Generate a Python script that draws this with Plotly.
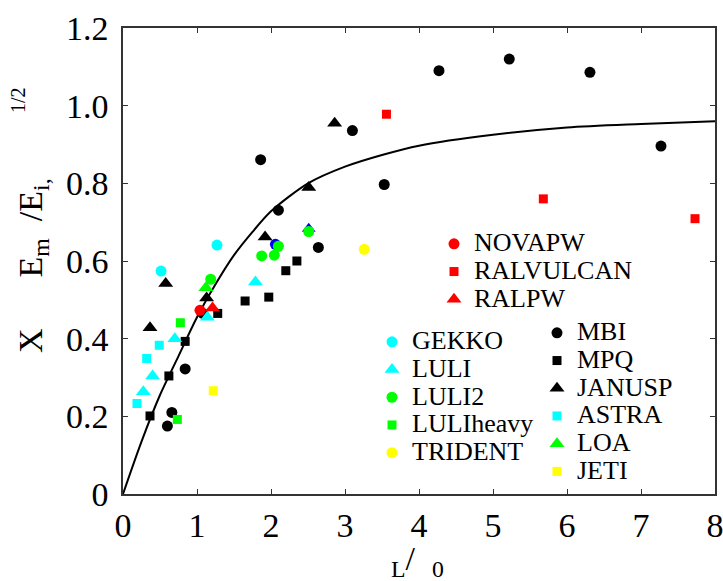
import plotly.graph_objects as go

# ---- data ----
mbi_x = [0.60, 0.66, 0.84, 1.08, 1.86, 2.10, 2.64, 3.10, 3.53, 4.27, 5.22, 6.31, 7.27]
mbi_y = [0.175, 0.210, 0.322, 0.465, 0.861, 0.731, 0.635, 0.936, 0.797, 1.090, 1.120, 1.086, 0.896]
mpq_x = [0.365, 0.62, 0.84, 1.28, 1.65, 1.97, 2.20, 2.35]
mpq_y = [0.201, 0.304, 0.393, 0.465, 0.497, 0.507, 0.575, 0.600]
janusp_x = [0.365, 0.577, 1.13, 1.92, 2.51, 2.86]
janusp_y = [0.428, 0.542, 0.505, 0.662, 0.789, 0.955]
astra_x = [0.189, 0.32, 0.49]
astra_y = [0.233, 0.349, 0.383]
loa_x = [1.12]
loa_y = [0.531]
jeti_x = [1.22]
jeti_y = [0.266]
gekko_x = [0.514, 1.27]
gekko_y = [0.574, 0.641]
luli_x = [0.275, 0.40, 0.70, 1.14, 1.79]
luli_y = [0.263, 0.304, 0.40, 0.455, 0.546]
luli2_x = [1.185, 1.874, 2.045, 2.10, 2.51]
luli2_y = [0.553, 0.613, 0.615, 0.638, 0.676]
luliheavy_x = [0.734, 0.775]
luliheavy_y = [0.192, 0.441]
trident_x = [3.26]
trident_y = [0.63]
novapw_x = [1.04]
novapw_y = [0.473]
ralvulcan_x = [3.56, 5.68, 7.73]
ralvulcan_y = [0.978, 0.760, 0.709]
ralpw_x = [1.21]
ralpw_y = [0.479]
blue_circ_x = [2.06]
blue_circ_y = [0.643]
blue_tri_x = [2.51]
blue_tri_y = [0.683]

curve_x = [0, 0.25, 0.5, 0.75, 1.0, 1.25, 1.5, 1.75, 2.0, 2.5, 3.0, 3.5, 4.0, 5.0, 6.0, 7.0, 8.0]
curve_y = [0, 0.135, 0.255, 0.355, 0.455, 0.54, 0.615, 0.675, 0.728, 0.80, 0.843, 0.873, 0.897, 0.925, 0.944, 0.953, 0.960]

x_ticks = [0, 1, 2, 3, 4, 5, 6, 7, 8]
y_ticks = [0, 0.2, 0.4, 0.6, 0.8, 1.0, 1.2]
y_tick_text = ["0", "0.2", "0.4", "0.6", "0.8", "1.0", "1.2"]

FONT = "Liberation Serif, Times New Roman, serif"
LEG_FS = 19
TICK_FS = 34

def nm(s):
    return '<span style="font-size:26px">%s</span>' % s

fig = go.Figure()

fig.add_trace(go.Scatter(x=curve_x, y=curve_y, mode="lines",
                         line=dict(color="black", width=2, shape="spline", smoothing=0.8),
                         showlegend=False, hoverinfo="skip"))

def pts(x, y, sym, color, size, name=None, legend=None):
    fig.add_trace(go.Scatter(x=x, y=y, mode="markers",
                             marker=dict(symbol=sym, color=color, size=size, line=dict(width=0)),
                             name=nm(name) if name else "", showlegend=name is not None,
                             legend=legend if legend else "legend"))

pts(blue_circ_x, blue_circ_y, "circle", "#0000FF", 11)
pts(blue_tri_x, blue_tri_y, "triangle-up", "#0000FF", 12)
pts(mbi_x, mbi_y, "circle", "black", 11, "MBI", "legend3")
pts(mpq_x, mpq_y, "square", "black", 9, "MPQ", "legend3")
pts(janusp_x, janusp_y, "triangle-up", "black", 13, "JANUSP", "legend3")
pts(astra_x, astra_y, "square", "#00FFFF", 9, "ASTRA", "legend3")
pts(loa_x, loa_y, "triangle-up", "#00FF00", 13, "LOA", "legend3")
pts(jeti_x, jeti_y, "square", "#FFFF00", 9, "JETI", "legend3")
pts(gekko_x, gekko_y, "circle", "#00FFFF", 11, "GEKKO", "legend2")
pts(luli_x, luli_y, "triangle-up", "#00FFFF", 13, "LULI", "legend2")
pts(luli2_x, luli2_y, "circle", "#00FF00", 11, "LULI2", "legend2")
pts(luliheavy_x, luliheavy_y, "square", "#00FF00", 9, "LULIheavy", "legend2")
pts(trident_x, trident_y, "circle", "#FFFF00", 11, "TRIDENT", "legend2")
pts(novapw_x, novapw_y, "circle", "#FF0000", 11, "NOVAPW", "legend")
pts(ralvulcan_x, ralvulcan_y, "square", "#FF0000", 9, "RALVULCAN", "legend")
pts(ralpw_x, ralpw_y, "triangle-up", "#FF0000", 13, "RALPW", "legend")

W, H = 723, 581
L, R, T, B = 123, 8, 28, 87
pw, ph = W - L - R, H - T - B

def px(xp):
    return (xp - L) / pw

def py(yp):
    return (H - B - yp) / ph

leg_common = dict(font=dict(family=FONT, size=LEG_FS, color="black"), bgcolor="rgba(0,0,0,0)",
                  borderwidth=0, itemsizing="trace", xanchor="left", yanchor="top", tracegroupgap=0)

fig.update_layout(
    width=W, height=H,
    margin=dict(l=L, r=R, t=T, b=B, pad=0, autoexpand=False),
    paper_bgcolor="white", plot_bgcolor="white",
    font=dict(family=FONT, size=TICK_FS, color="black"),
    legend=dict(x=px(455 - 21), y=py(242 - 17), **leg_common),
    legend2=dict(x=px(392 - 20), y=py(342 - 19), **leg_common),
    legend3=dict(x=px(558 - 21), y=py(333 - 19), **leg_common),
    xaxis=dict(range=[0, 8], tickvals=x_ticks, ticks="inside", ticklen=5, tickwidth=1, tickcolor="#333",
               showline=True, linecolor="#333", linewidth=1.5, mirror="ticks", showgrid=False, zeroline=False,
               automargin=False, ticklabeloverflow="allow", tickfont=dict(family=FONT, size=TICK_FS)),
    yaxis=dict(range=[0, 1.2], tickvals=y_ticks, ticktext=y_tick_text, ticks="inside", ticklen=5, tickwidth=1,
               tickcolor="#333", showline=True, linecolor="#333", linewidth=1.5, mirror="ticks", showgrid=False,
               zeroline=False, automargin=False, ticklabeloverflow="allow",
               tickfont=dict(family=FONT, size=TICK_FS), ticklabelstandoff=6),
    annotations=[
        dict(text="X      E<sub>m</sub>  /E<sub>i,</sub>", xref="paper", yref="paper", x=px(33), y=py(266),
             textangle=-90, showarrow=False, font=dict(family=FONT, size=34), xanchor="center", yanchor="middle"),
        dict(text="1/2", xref="paper", yref="paper", x=px(18), y=py(100),
             textangle=-90, showarrow=False, font=dict(family=FONT, size=20), xanchor="center", yanchor="middle"),
        dict(text="<sub>L</sub>/  <sub>0</sub>", xref="paper", yref="paper", x=px(417), y=py(561),
             showarrow=False, font=dict(family=FONT, size=34), xanchor="center", yanchor="middle"),
    ],
)

fig.write_html("out.html", config={"displayModeBar": False},
               post_script="document.body.style.margin='0';document.body.style.overflow='hidden';")
